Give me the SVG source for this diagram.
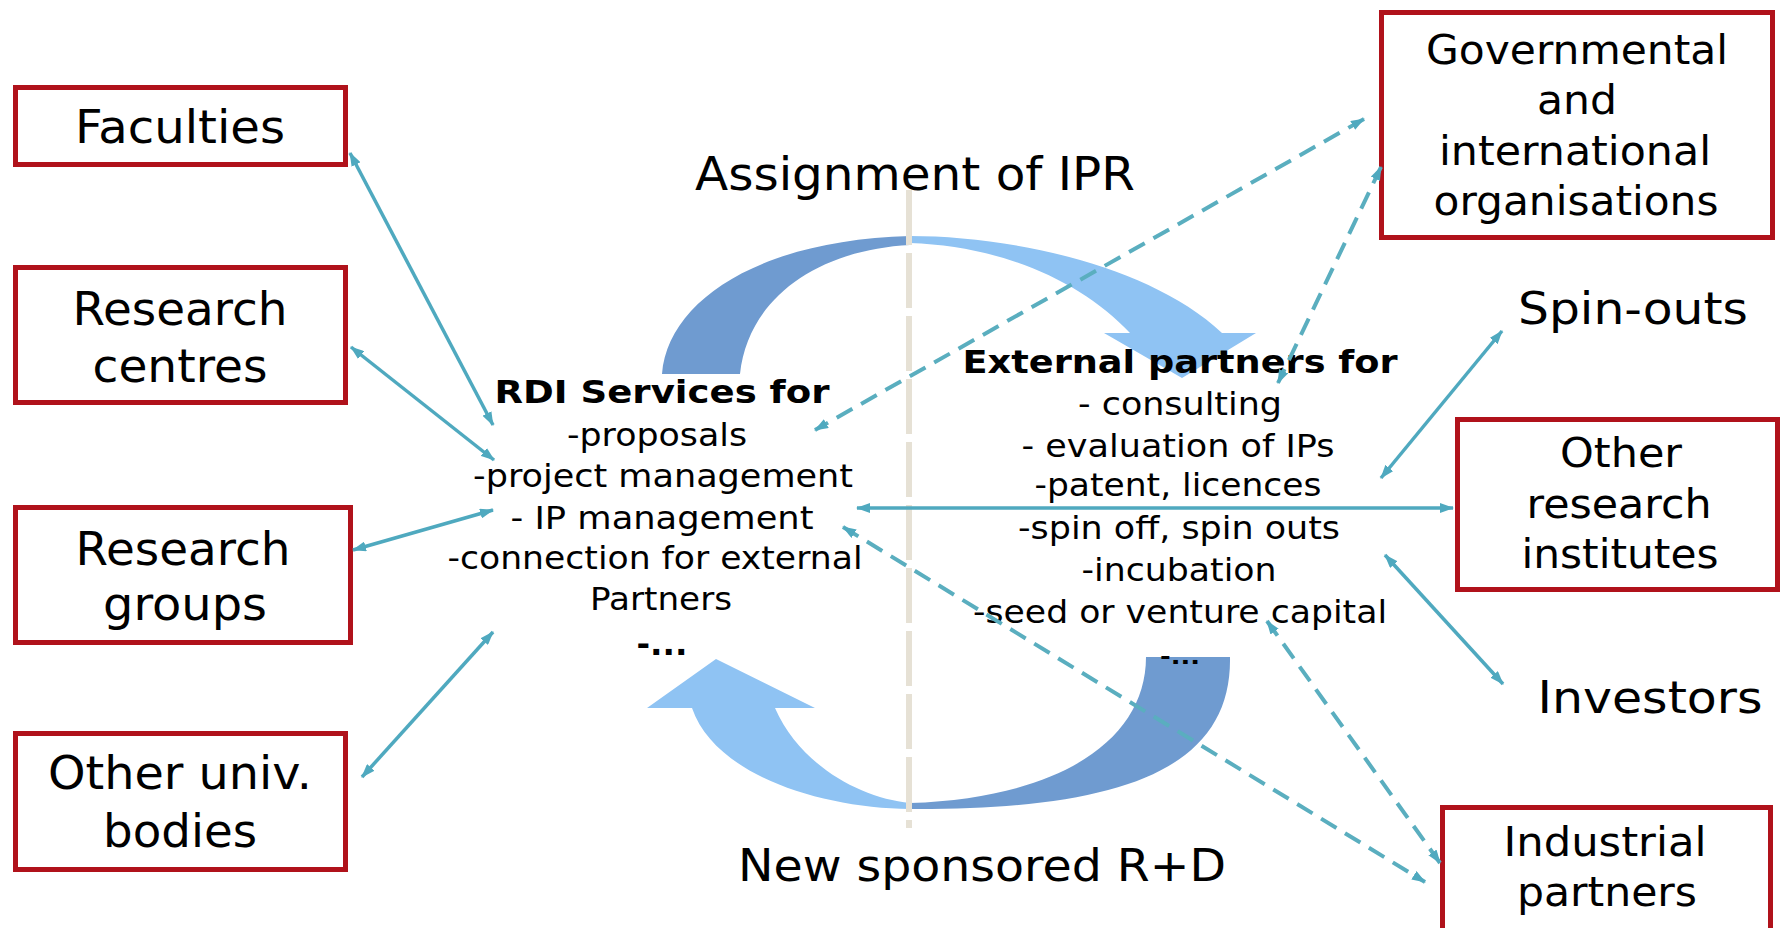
<svg xmlns="http://www.w3.org/2000/svg" width="1782" height="928" viewBox="0 0 1782 928">
  <defs>
    <style>
      .box { fill: #ffffff; stroke: #b0121b; stroke-width: 5; }
      .t { font-family: "DejaVu Sans", Verdana, sans-serif; fill: #000000; text-anchor: middle; }
      .lg { font-size: 46px; }
      .md { font-size: 40px; }
      .ct { font-size: 32px; }
      .bd { font-size: 32px; font-weight: bold; }
      .link { fill: none; stroke: #4fa9bf; stroke-width: 3.5; }
      .dash { fill: none; stroke: #5aaebf; stroke-width: 4; stroke-dasharray: 18 10; }
      .dark { fill: #6f9bd0; }
      .light { fill: #8fc3f3; }
    </style>
    <marker id="ah" viewBox="0 0 14 10" refX="13" refY="5" markerWidth="14" markerHeight="10" markerUnits="userSpaceOnUse" orient="auto-start-reverse">
      <path d="M0,0 L14,5 L0,10 Z" fill="#4fa9bf"/>
    </marker>
  </defs>

  <rect width="1782" height="928" fill="#ffffff"/>

  <!-- curved flow arrows -->
  <g id="cycle">
    <g id="ipr-arrow">
      <path class="dark" d="M662,374 C668,300 760,240 910,236 L910,245 C815,250 748,300 740,374 Z"/>
      <path class="light" d="M910,236 C1010,236 1150,265 1222,333 L1256,333 L1182,378 L1104,333 L1130,333 C1080,280 1000,246 910,243 Z"/>
    </g>
    <g id="rd-arrow">
      <path class="dark" d="M1146,657 L1230,657 C1232,770 1120,810 910,809 L910,803 C1060,798 1146,740 1146,657 Z"/>
      <path class="light" d="M910,809 C820,808 715,775 692,708 L647,708 L716,659 L815,708 L775,708 C800,765 860,798 910,803 Z"/>
    </g>
  </g>

  <!-- divider -->
  <line x1="909" y1="190" x2="909" y2="828" stroke="#e6e1d5" stroke-width="6" stroke-dasharray="55 8"/>

  <!-- titles -->
  <g id="title-ipr">
    <text class="t" x="915" y="190" font-size="46" textLength="440" lengthAdjust="spacingAndGlyphs">Assignment of IPR</text>
  </g>
  <g id="title-rd">
    <text class="t" x="982" y="881" font-size="45" textLength="488" lengthAdjust="spacingAndGlyphs">New sponsored R+D</text>
  </g>

  <!-- university side -->
  <g id="faculties">
    <rect class="box" x="15.5" y="87.5" width="330" height="77"/>
    <text class="t lg" x="180" y="143" textLength="210" lengthAdjust="spacingAndGlyphs">Faculties</text>
  </g>
  <g id="research-centres">
    <rect class="box" x="15.5" y="267.5" width="330" height="135"/>
    <text class="t lg" x="180" y="325" textLength="215" lengthAdjust="spacingAndGlyphs">Research</text>
    <text class="t lg" x="180" y="382" textLength="175" lengthAdjust="spacingAndGlyphs">centres</text>
  </g>
  <g id="research-groups">
    <rect class="box" x="15.5" y="507.5" width="335" height="135"/>
    <text class="t lg" x="183" y="565" textLength="215" lengthAdjust="spacingAndGlyphs">Research</text>
    <text class="t lg" x="185" y="620" textLength="164" lengthAdjust="spacingAndGlyphs">groups</text>
  </g>
  <g id="other-univ-bodies">
    <rect class="box" x="15.5" y="733.5" width="330" height="136"/>
    <text class="t lg" x="180" y="789" textLength="264" lengthAdjust="spacingAndGlyphs">Other univ.</text>
    <text class="t lg" x="180" y="847" textLength="154" lengthAdjust="spacingAndGlyphs">bodies</text>
  </g>

  <!-- RDI services -->
  <g id="rdi-services">
    <text class="t bd" x="662" y="403" textLength="335" lengthAdjust="spacingAndGlyphs">RDI Services for</text>
    <text class="t ct" x="657" y="446" textLength="180" lengthAdjust="spacingAndGlyphs">-proposals</text>
    <text class="t ct" x="663" y="487" textLength="380" lengthAdjust="spacingAndGlyphs">-project management</text>
    <text class="t ct" x="662" y="529" textLength="303" lengthAdjust="spacingAndGlyphs">- IP management</text>
    <text class="t ct" x="655" y="569" textLength="415" lengthAdjust="spacingAndGlyphs">-connection for external</text>
    <text class="t ct" x="661" y="610" textLength="142" lengthAdjust="spacingAndGlyphs">Partners</text>
    <text class="t bd" x="662" y="655" textLength="51" lengthAdjust="spacingAndGlyphs">-...</text>
  </g>

  <!-- external partners -->
  <g id="external-partners">
    <text class="t bd" x="1180" y="373" textLength="435" lengthAdjust="spacingAndGlyphs">External partners for</text>
    <text class="t ct" x="1180" y="415" textLength="204" lengthAdjust="spacingAndGlyphs">- consulting</text>
    <text class="t ct" x="1178" y="457" textLength="313" lengthAdjust="spacingAndGlyphs">- evaluation of IPs</text>
    <text class="t ct" x="1178" y="496" textLength="287" lengthAdjust="spacingAndGlyphs">-patent, licences</text>
    <text class="t ct" x="1179" y="539" textLength="322" lengthAdjust="spacingAndGlyphs">-spin off, spin outs</text>
    <text class="t ct" x="1179" y="581" textLength="195" lengthAdjust="spacingAndGlyphs">-incubation</text>
    <text class="t ct" x="1180" y="623" textLength="414" lengthAdjust="spacingAndGlyphs">-seed or venture capital</text>
    <text class="t" x="1180" y="664" font-size="22" font-weight="bold" fill="#1b2a5a" textLength="40" lengthAdjust="spacingAndGlyphs">-...</text>
  </g>

  <!-- outside organisations -->
  <g id="governmental">
    <rect class="box" x="1381.5" y="12.5" width="391" height="225"/>
    <text class="t md" x="1577" y="64" textLength="302" lengthAdjust="spacingAndGlyphs">Governmental</text>
    <text class="t md" x="1577" y="114" textLength="80" lengthAdjust="spacingAndGlyphs">and</text>
    <text class="t md" x="1575" y="165" textLength="272" lengthAdjust="spacingAndGlyphs">international</text>
    <text class="t md" x="1576" y="215" textLength="285" lengthAdjust="spacingAndGlyphs">organisations</text>
  </g>
  <g id="spin-outs">
    <text class="t" x="1633" y="324" font-size="45" textLength="230" lengthAdjust="spacingAndGlyphs">Spin-outs</text>
  </g>
  <g id="other-research-institutes">
    <rect class="box" x="1457.5" y="419.5" width="320" height="170"/>
    <text class="t md" x="1621" y="467" textLength="122" lengthAdjust="spacingAndGlyphs">Other</text>
    <text class="t md" x="1619" y="518" textLength="185" lengthAdjust="spacingAndGlyphs">research</text>
    <text class="t md" x="1620" y="568" textLength="197" lengthAdjust="spacingAndGlyphs">institutes</text>
  </g>
  <g id="investors">
    <text class="t" x="1650" y="713" font-size="45" textLength="225" lengthAdjust="spacingAndGlyphs">Investors</text>
  </g>
  <g id="industrial-partners">
    <rect class="box" x="1442.5" y="807.5" width="328" height="140"/>
    <text class="t md" x="1605" y="856" textLength="203" lengthAdjust="spacingAndGlyphs">Industrial</text>
    <text class="t md" x="1607" y="906" textLength="180" lengthAdjust="spacingAndGlyphs">partners</text>
  </g>

  <!-- connectors -->
  <g id="connectors">
    <line class="link" x1="350" y1="153" x2="493" y2="425" marker-start="url(#ah)" marker-end="url(#ah)"/>
    <line class="link" x1="351" y1="347" x2="494" y2="460" marker-start="url(#ah)" marker-end="url(#ah)"/>
    <line class="link" x1="353" y1="550" x2="493" y2="510" marker-start="url(#ah)" marker-end="url(#ah)"/>
    <line class="link" x1="362" y1="777" x2="493" y2="632" marker-start="url(#ah)" marker-end="url(#ah)"/>
    <line class="link" x1="1502" y1="331" x2="1381" y2="478" marker-start="url(#ah)" marker-end="url(#ah)"/>
    <line class="link" x1="1385" y1="555" x2="1503" y2="684" marker-start="url(#ah)" marker-end="url(#ah)"/>
    <line class="link" x1="857" y1="508" x2="1453" y2="508" marker-start="url(#ah)" marker-end="url(#ah)"/>
    <line class="dash" x1="1364" y1="119" x2="815" y2="430" marker-start="url(#ah)" marker-end="url(#ah)"/>
    <line class="dash" x1="1381" y1="167" x2="1278" y2="383" marker-start="url(#ah)" marker-end="url(#ah)"/>
    <line class="dash" x1="843" y1="527" x2="1425" y2="882" marker-start="url(#ah)" marker-end="url(#ah)"/>
    <line class="dash" x1="1267" y1="621" x2="1440" y2="863" marker-start="url(#ah)" marker-end="url(#ah)"/>
  </g>
</svg>
